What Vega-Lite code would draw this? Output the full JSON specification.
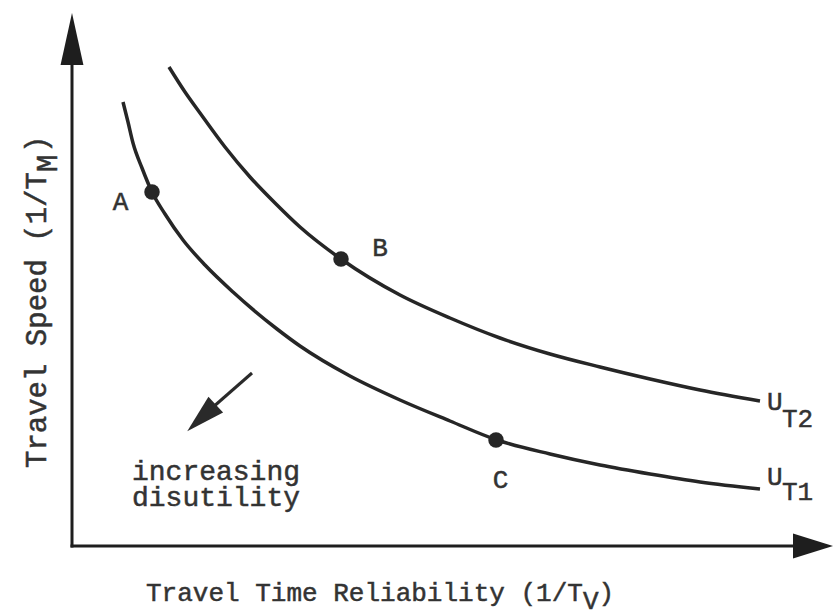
{
  "$schema": "https://vega.github.io/schema/vega-lite/v6.json",
  "width": 835,
  "height": 616,
  "autosize": {"type": "fit", "contains": "padding"},
  "padding": 0,
  "background": "white",
  "config": {"view": {"stroke": null}},
  "datasets": {
    "curves": [
      {"curve": "UT1", "reliability": 5.1, "speed": 44.4},
      {"curve": "UT1", "reliability": 5.6, "speed": 42.4},
      {"curve": "UT1", "reliability": 6.1, "speed": 40.3},
      {"curve": "UT1", "reliability": 7.0, "speed": 37.8},
      {"curve": "UT1", "reliability": 8.0, "speed": 35.4},
      {"curve": "UT1", "reliability": 9.3, "speed": 33.2},
      {"curve": "UT1", "reliability": 11.1, "speed": 30.6},
      {"curve": "UT1", "reliability": 13.3, "speed": 28.1},
      {"curve": "UT1", "reliability": 16.1, "speed": 25.4},
      {"curve": "UT1", "reliability": 20.5, "speed": 21.7},
      {"curve": "UT1", "reliability": 22.8, "speed": 20.0},
      {"curve": "UT1", "reliability": 27.8, "speed": 17.0},
      {"curve": "UT1", "reliability": 32.8, "speed": 14.6},
      {"curve": "UT1", "reliability": 37.8, "speed": 12.5},
      {"curve": "UT1", "reliability": 42.5, "speed": 10.6},
      {"curve": "UT1", "reliability": 47.8, "speed": 9.2},
      {"curve": "UT1", "reliability": 52.8, "speed": 8.1},
      {"curve": "UT1", "reliability": 57.8, "speed": 7.2},
      {"curve": "UT1", "reliability": 62.8, "speed": 6.4},
      {"curve": "UT1", "reliability": 68.8, "speed": 5.7},
      {"curve": "UT2", "reliability": 9.7, "speed": 47.9},
      {"curve": "UT2", "reliability": 11.3, "speed": 45.4},
      {"curve": "UT2", "reliability": 12.8, "speed": 43.3},
      {"curve": "UT2", "reliability": 15.3, "speed": 39.9},
      {"curve": "UT2", "reliability": 17.8, "speed": 36.9},
      {"curve": "UT2", "reliability": 20.3, "speed": 34.3},
      {"curve": "UT2", "reliability": 22.8, "speed": 31.9},
      {"curve": "UT2", "reliability": 26.9, "speed": 28.7},
      {"curve": "UT2", "reliability": 32.8, "speed": 25.1},
      {"curve": "UT2", "reliability": 37.8, "speed": 22.8},
      {"curve": "UT2", "reliability": 42.8, "speed": 20.8},
      {"curve": "UT2", "reliability": 47.8, "speed": 19.2},
      {"curve": "UT2", "reliability": 52.8, "speed": 17.9},
      {"curve": "UT2", "reliability": 57.8, "speed": 16.7},
      {"curve": "UT2", "reliability": 62.8, "speed": 15.6},
      {"curve": "UT2", "reliability": 68.8, "speed": 14.5}
    ],
    "states": [
      {"state": "A", "reliability": 8.0, "speed": 35.4},
      {"state": "B", "reliability": 26.9, "speed": 28.7},
      {"state": "C", "reliability": 42.4, "speed": 10.6}
    ],
    "axisLines": [
      {"reliability": 0, "speed": -0.15, "reliability2": 0, "speed2": 48.6},
      {"reliability": -0.15, "speed": 0, "reliability2": 72.8, "speed2": 0}
    ],
    "yArrow": [{"reliability": 0, "speed": 50.7}],
    "xArrow": [{"reliability": 74.1, "speed": 0}],
    "disutilityShaft": [{"reliability": 18.0, "speed": 17.3, "reliability2": 14.0, "speed2": 13.8}],
    "disutilityHead": [{"reliability": 12.95, "speed": 12.8}],
    "stateLabels": [
      {"text": "A", "reliability": 4.85, "speed": 33.6},
      {"text": "B", "reliability": 30.8, "speed": 29.0},
      {"text": "C", "reliability": 42.85, "speed": 5.8}
    ],
    "note": [
      {"text": "increasing", "reliability": 6.0, "speed": 6.6},
      {"text": "disutility", "reliability": 6.0, "speed": 4.0}
    ],
    "leftText": [
      {"text": "U", "reliability": 69.5, "speed": 13.6},
      {"text": "U", "reliability": 69.5, "speed": 6.1},
      {"text": "Travel Time Reliability (1/T", "reliability": 7.4, "speed": -5.5},
      {"text": ")", "reliability": 52.66, "speed": -5.5}
    ],
    "subscripts": [
      {"text": "T2", "reliability": 71.0, "speed": 11.9},
      {"text": "T1", "reliability": 71.0, "speed": 4.6},
      {"text": "V", "reliability": 51.1, "speed": -6.3}
    ],
    "yTitle": [
      {"text": "Travel Speed (1/T", "reliability": -2.6, "speed": 7.8},
      {"text": ")", "reliability": -2.6, "speed": 39.3}
    ],
    "yTitleSub": [
      {"text": "M", "reliability": -1.5, "speed": 37.4}
    ]
  },
  "encoding": {
    "x": {"field": "reliability", "type": "quantitative", "axis": null,
          "scale": {"domain": [-7.2, 76.3], "nice": false, "zero": false}},
    "y": {"field": "speed", "type": "quantitative", "axis": null,
          "scale": {"domain": [-7.0, 54.6], "nice": false, "zero": false}}
  },
  "layer": [
    {
      "data": {"name": "axisLines"},
      "mark": {"type": "rule", "color": "#1e1e1e", "strokeWidth": 3},
      "encoding": {"x2": {"field": "reliability2"}, "y2": {"field": "speed2"}}
    },
    {
      "data": {"name": "yArrow"},
      "mark": {"type": "point", "shape": "M0,-1L0.44,1L-0.44,1Z", "size": 2704, "filled": true, "color": "#1e1e1e", "opacity": 1}
    },
    {
      "data": {"name": "xArrow"},
      "mark": {"type": "point", "shape": "M1,0L-1,0.625L-1,-0.625Z", "size": 1600, "filled": true, "color": "#1e1e1e", "opacity": 1}
    },
    {
      "data": {"name": "curves"},
      "mark": {"type": "line", "color": "#262626", "strokeWidth": 3.5, "interpolate": "monotone", "strokeCap": "butt"},
      "encoding": {"detail": {"field": "curve"}}
    },
    {
      "data": {"name": "states"},
      "mark": {"type": "point", "shape": "circle", "size": 240, "filled": true, "color": "#262626", "opacity": 1}
    },
    {
      "data": {"name": "disutilityShaft"},
      "mark": {"type": "rule", "color": "#2a2a2a", "strokeWidth": 3},
      "encoding": {"x2": {"field": "reliability2"}, "y2": {"field": "speed2"}}
    },
    {
      "data": {"name": "disutilityHead"},
      "mark": {"type": "point", "shape": "M1,0L-1,-0.55L-1,0.55Z", "size": 1521, "angle": 137, "filled": true, "color": "#2a2a2a", "opacity": 1}
    },
    {
      "data": {"name": "stateLabels"},
      "mark": {"type": "text", "font": "Liberation Mono", "fontSize": 26, "align": "center", "baseline": "alphabetic", "color": "#333333", "stroke": "#333333", "strokeWidth": 0.5},
      "encoding": {"text": {"field": "text"}}
    },
    {
      "data": {"name": "note"},
      "mark": {"type": "text", "font": "Liberation Mono", "fontSize": 28, "align": "left", "baseline": "alphabetic", "color": "#333333", "stroke": "#333333", "strokeWidth": 0.5},
      "encoding": {"text": {"field": "text"}}
    },
    {
      "data": {"name": "leftText"},
      "mark": {"type": "text", "font": "Liberation Mono", "fontSize": 26, "align": "left", "baseline": "alphabetic", "color": "#333333", "stroke": "#333333", "strokeWidth": 0.5},
      "encoding": {"text": {"field": "text"}}
    },
    {
      "data": {"name": "subscripts"},
      "mark": {"type": "text", "font": "Liberation Mono", "fontSize": 26, "align": "left", "baseline": "alphabetic", "color": "#333333", "stroke": "#333333", "strokeWidth": 0.5},
      "encoding": {"text": {"field": "text"}}
    },
    {
      "data": {"name": "yTitle"},
      "mark": {"type": "text", "font": "Liberation Mono", "fontSize": 29, "align": "left", "baseline": "alphabetic", "angle": 270, "color": "#333333", "stroke": "#333333", "strokeWidth": 0.5},
      "encoding": {"text": {"field": "text"}}
    },
    {
      "data": {"name": "yTitleSub"},
      "mark": {"type": "text", "font": "Liberation Mono", "fontSize": 29, "align": "left", "baseline": "alphabetic", "angle": 270, "color": "#333333", "stroke": "#333333", "strokeWidth": 0.5},
      "encoding": {"text": {"field": "text"}}
    }
  ]
}
